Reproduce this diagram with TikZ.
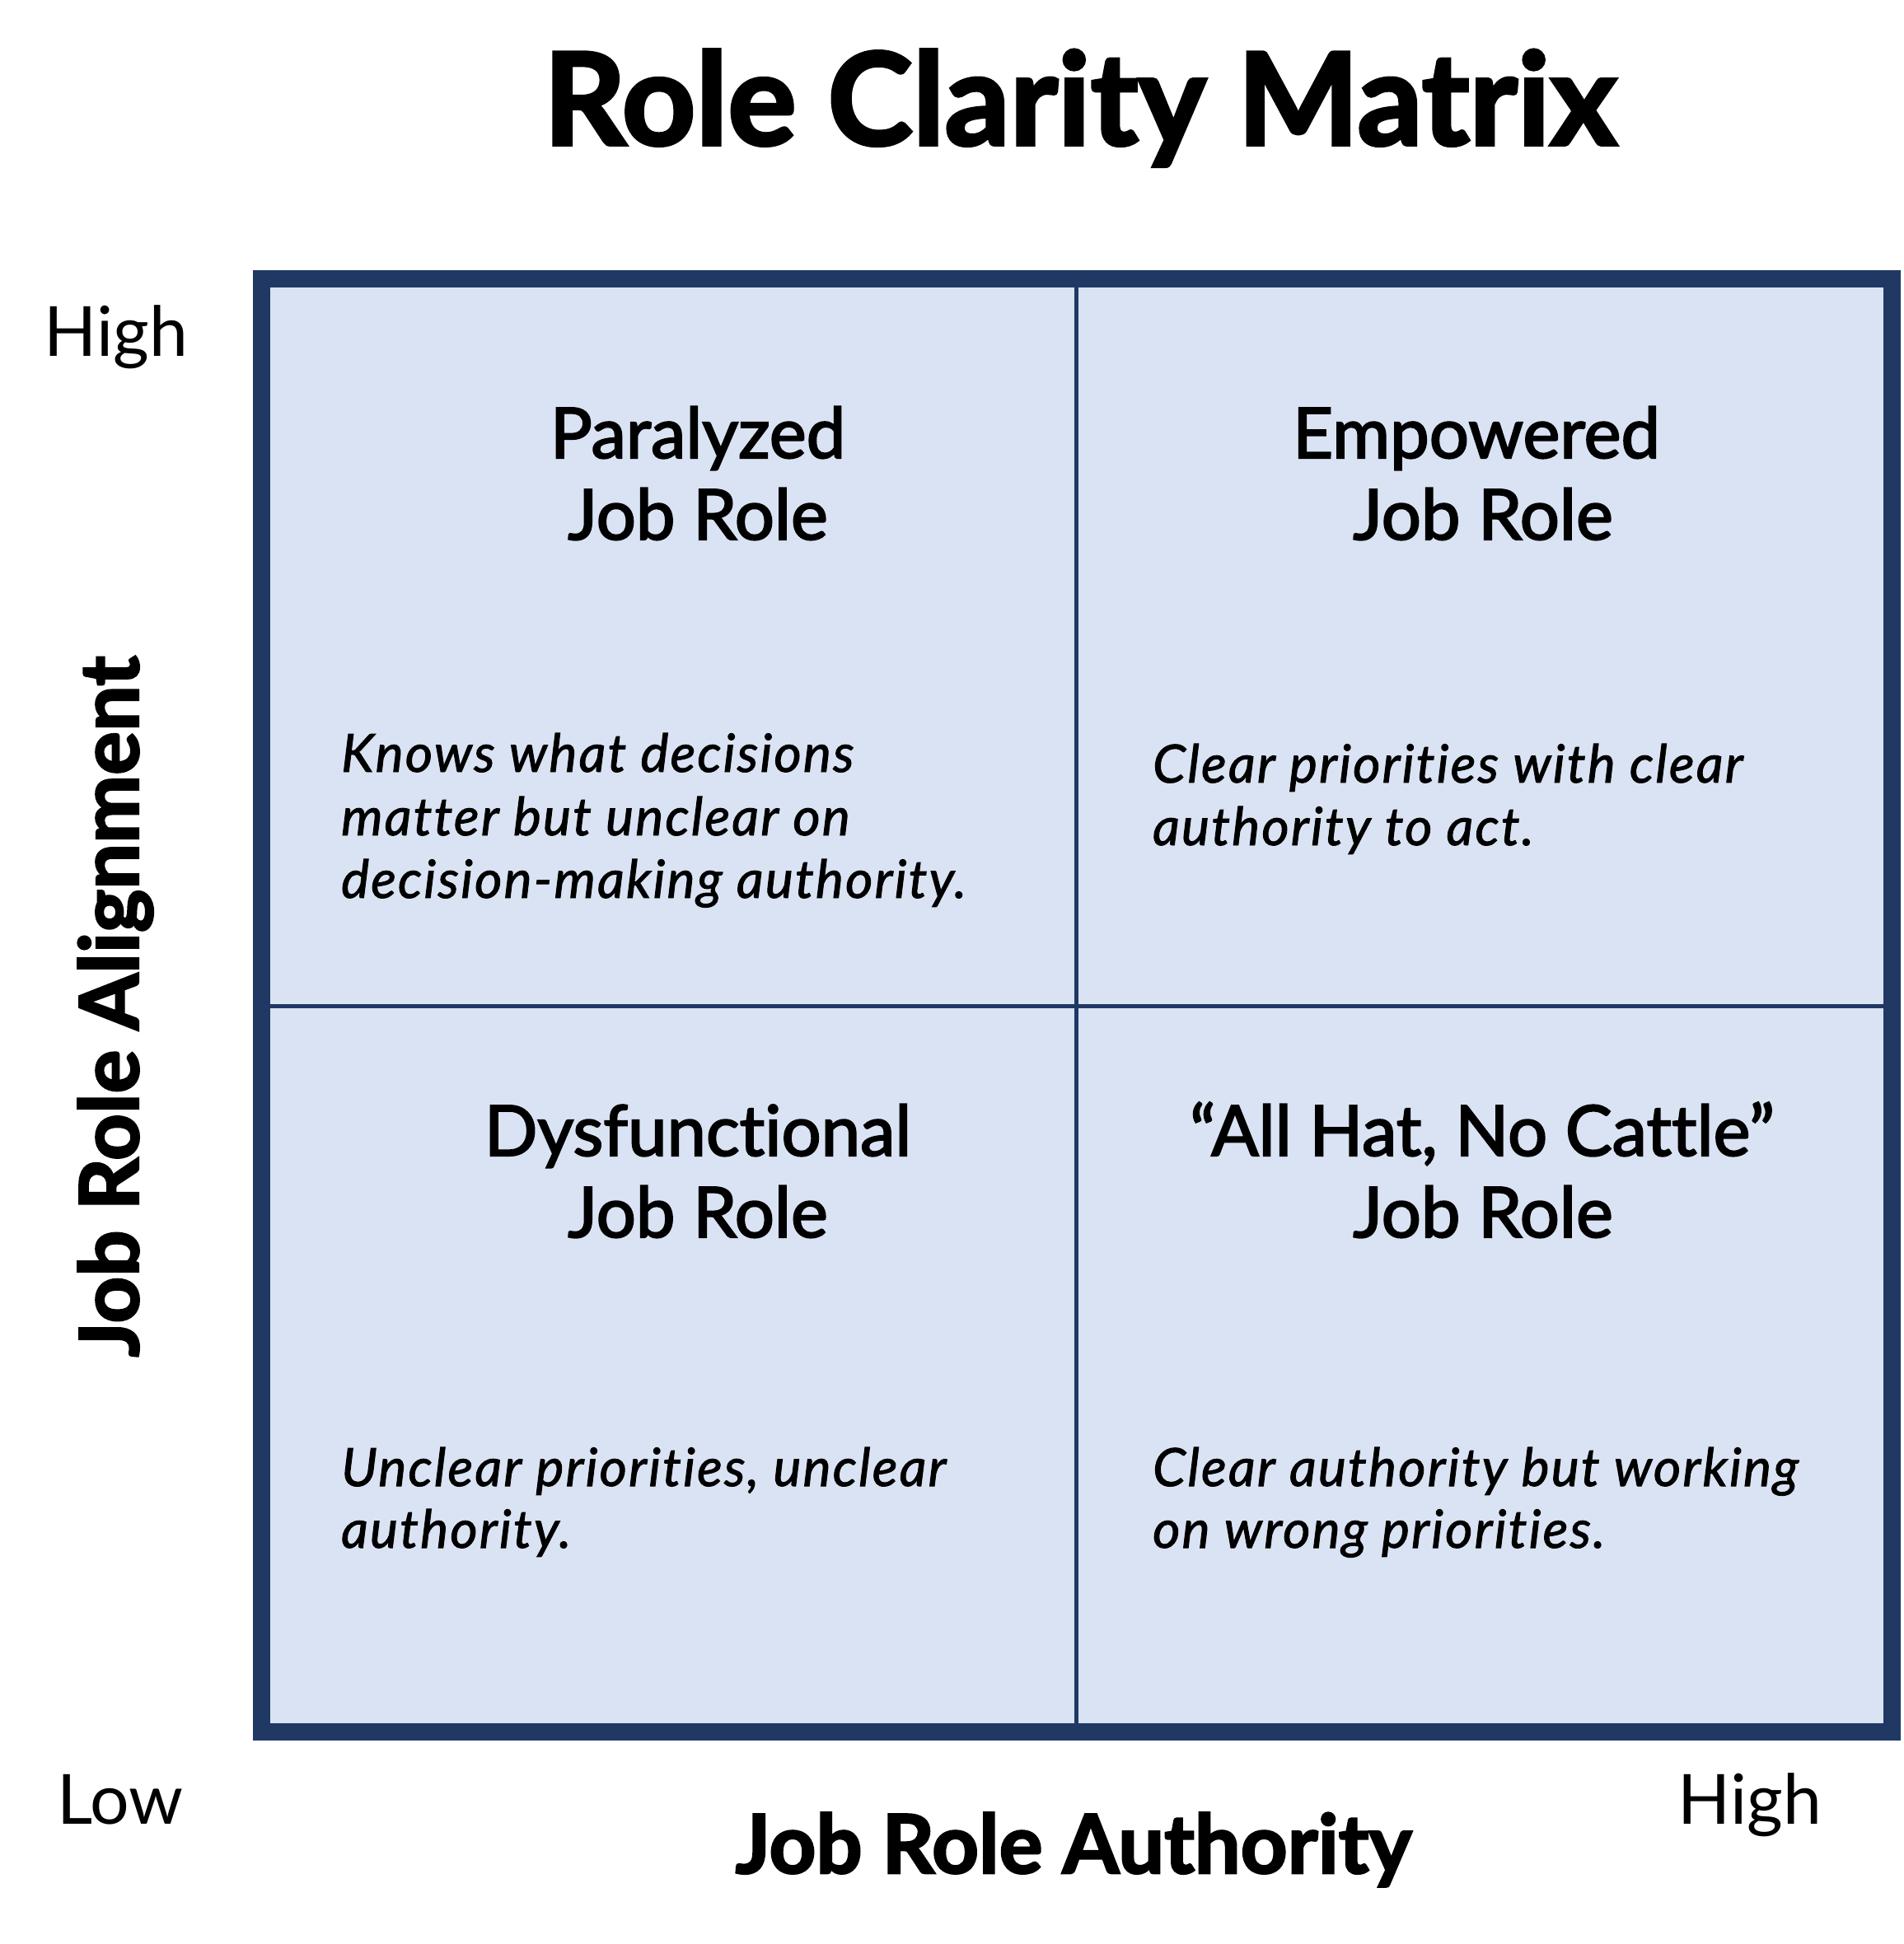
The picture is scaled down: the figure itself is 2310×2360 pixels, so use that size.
\documentclass[tikz,border=0pt]{standalone}
\usepackage{fontspec}
\defaultfontfeatures{Ligatures={NoCommon}}
\setmainfont{Lato}
\newfontfamily\medfont{Lato}[Ligatures={NoCommon},RawFeature={embolden=2.4}]
\newfontfamily\bodyfont{Lato}[Ligatures={NoCommon},LetterSpace=3.5,RawFeature={embolden=1.5}]
\newfontfamily\heavyfont{Lato}[Ligatures={NoCommon},RawFeature={embolden=2.5}]
\definecolor{navy}{HTML}{203864}
\definecolor{cellfill}{HTML}{DAE3F3}
\tikzset{
  ttl/.style={font=\heavyfont\bfseries\fontsize{156}{160}\selectfont, anchor=base, inner sep=0pt},
  qtitle/.style={font=\medfont\fontsize{85}{90}\selectfont, anchor=base, inner sep=0pt},
  qbody/.style={font=\bodyfont\itshape\fontsize{64}{70}\selectfont, anchor=base west, inner sep=0pt},
  lvl/.style={font=\fontsize{84}{90}\selectfont, anchor=base, inner sep=0pt},
  axislbl/.style={font=\heavyfont\bfseries\fontsize{99}{104}\selectfont, anchor=base, inner sep=0pt},
  divider/.style={draw=navy, line width=5pt},
  frame/.style={draw=navy, line width=21pt},
}
\begin{document}
\begin{tikzpicture}[x=1pt,y=-1pt]
\useasboundingbox (0,0) rectangle (2310,2360);
% matrix cells
\fill[cellfill] (307,328) rectangle (2307,2113);
\draw[divider] (1306,338) -- (1306,2103);
\draw[divider] (317,1221) -- (2297,1221);
\draw[frame] (317.5,338.5) rectangle (2296.5,2102.5);
% title
\node[ttl] (title) at (1311,176) {Role Clarity Matrix};
% upper left
\node[qtitle] (ul1) at (847,556) {Paralyzed};
\node[qtitle] (ul2) at (847,655) {Job Role};
\node[qbody] (ulb1) at (414,937) {Knows what decisions};
\node[qbody] (ulb2) at (414,1014) {matter but unclear on};
\node[qbody] (ulb3) at (414,1090) {decision-making authority.};
% upper right
\node[qtitle] (ur1) at (1792,556) {Empowered};
\node[qtitle] (ur2) at (1800,655) {Job Role};
\node[qbody] (urb1) at (1399,950) {Clear priorities with clear};
\node[qbody] (urb2) at (1399,1026) {authority to act.};
% lower left
\node[qtitle] (ll1) at (847,1403) {Dysfunctional};
\node[qtitle] (ll2) at (847,1502) {Job Role};
\node[qbody] (llb1) at (414,1804) {Unclear priorities, unclear};
\node[qbody] (llb2) at (414,1879) {authority.};
% lower right
\node[qtitle] (lr1) at (1799,1403) {“All Hat, No Cattle”};
\node[qtitle] (lr2) at (1800,1502) {Job Role};
\node[qbody] (lrb1) at (1399,1804) {Clear authority but working};
\node[qbody] (lrb2) at (1399,1879) {on wrong priorities.};
% axis levels
\node[lvl] (yhigh) at (141,432) {High};
\node[lvl] (xlow) at (146,2214) {Low};
\node[lvl] (xhigh) at (2124,2214) {High};
% axis labels
\node[axislbl] (xlabel) at (1303,2274) {Job Role Authority};
\node[axislbl, rotate=90] (ylabel) at (168,1222) {Job Role Alignment};
\end{tikzpicture}
\end{document}
